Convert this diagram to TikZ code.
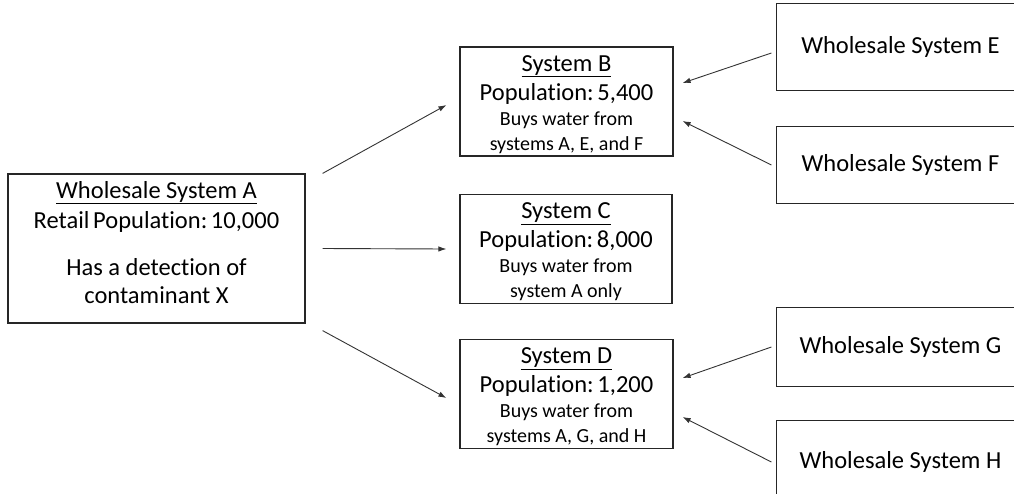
\documentclass[tikz,border=0pt]{standalone}
\usepackage{fontspec}
\setmainfont{Carlito}[Ligatures=NoCommon]
\usetikzlibrary{arrows.meta}
\newcommand\smtext{\fontsize{20}{25}\selectfont}
\newcommand\toprule[1]{\rule{0pt}{#1}}
\newcommand\botrule[1]{\rule[-#1]{0pt}{#1}}
\newcommand\nsp{\hspace{0.15em}}
\begin{document}
\begin{tikzpicture}[x=1pt,y=-1pt,
  box/.style={draw=black!85,line width=1.2pt,inner sep=0pt,align=center,
    font=\fontsize{24.5}{28}\selectfont},
  side/.style={box,draw=none,minimum width=247pt},
  edge/.style={draw=black!85,line width=1.2pt},
  arr/.style={draw=black!80,line width=0.9pt,-{Latex[length=8pt,width=5.5pt]}}]
\useasboundingbox (0,0) rectangle (1014,493);
\clip (0,0) rectangle (1014,493);
\node[box,minimum width=297pt,minimum height=149pt] (A) at (156.5,248.5)
  {\toprule{23pt}\underline{Wholesale System A}\\[2pt]Retail\nsp Population:\nsp 10,000\\[19pt]Has a detection of\\contaminant X\botrule{19pt}};
\node[box,minimum width=213pt,minimum height=109pt] (B) at (566.5,101.5)
  {\toprule{24pt}\underline{System B}\\[1pt]Population:\nsp 5,400\\[-3pt]\smtext Buys water from\\[-3pt]\smtext systems A, E, and F\botrule{6pt}};
\node[box,minimum width=212pt,minimum height=108pt] (C) at (566,249)
  {\toprule{24pt}\underline{System C}\\[1pt]Population:\nsp 8,000\\[-3pt]\smtext Buys water from\\[-3pt]\smtext system A only\botrule{6pt}};
\node[box,minimum width=213pt,minimum height=108pt] (D) at (566.5,394)
  {\toprule{24pt}\underline{System D}\\[1pt]Population:\nsp 1,200\\[-3pt]\smtext Buys water from\\[-3pt]\smtext systems A, G, and H\botrule{6pt}};
\node[side,minimum height=86pt] (E) at (900.5,47) {\toprule{20pt}Wholesale System E\botrule{7pt}};
\node[side,minimum height=76pt] (F) at (900.5,165) {\toprule{20pt}Wholesale System F\botrule{7pt}};
\node[side,minimum height=78pt] (G) at (900.5,347) {\toprule{20pt}Wholesale System G\botrule{7pt}};
\node[side,minimum height=82pt] (H) at (900.5,462) {\toprule{20pt}Wholesale System H\botrule{7pt}};
\foreach \n in {E,F,G,H}
  \draw[edge] ([xshift=40pt]\n.north east) -- (\n.north west) -- (\n.south west) -- ([xshift=40pt]\n.south east);
\draw[arr] ([xshift=17pt]A.north east) -- ([shift={(-13,3.5)}]B.west);
\draw[arr] ([xshift=17pt]A.east) -- ([xshift=-13pt]C.west);
\draw[arr] ([shift={(17,7)}]A.south east) -- ([shift={(-13,4)}]D.west);
\draw[arr] ([shift={(-5,6)}]E.west) -- ([shift={(9,-18.5)}]B.east);
\draw[arr] ([xshift=-5pt]F.west) -- ([shift={(9,19.5)}]B.east);
\draw[arr] ([xshift=-5pt]G.west) -- ([shift={(9,-16)}]D.east);
\draw[arr] ([xshift=-5pt]H.west) -- ([shift={(9,23)}]D.east);
\end{tikzpicture}
\end{document}
